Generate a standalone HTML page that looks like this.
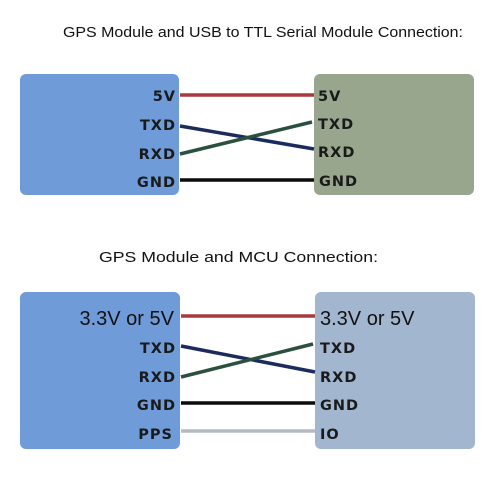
<!DOCTYPE html>
<html><head><meta charset="utf-8"><style>
html,body{margin:0;padding:0;background:#fff;}
svg{display:block;}
.t{font-family:"Liberation Sans",Arial,sans-serif;font-size:15px;fill:#111;}
.l{font-family:"DejaVu Sans","Liberation Sans",sans-serif;font-size:14.5px;font-weight:bold;fill:#1a1a1a;letter-spacing:1px;}
.b{font-family:"Liberation Sans",Arial,sans-serif;font-size:20px;fill:#111;}
</style></head><body>
<svg width="500" height="500" xmlns="http://www.w3.org/2000/svg">
<text class="t" x="63" y="37" textLength="400" lengthAdjust="spacingAndGlyphs">GPS Module and USB to TTL Serial Module Connection:</text>
<rect x="20" y="74" width="159" height="121" rx="6" fill="#6f9bd8"/>
<rect x="314" y="74" width="160" height="121" rx="6" fill="#97a68d"/>
<g stroke-width="3.5" fill="none">
<line x1="180" y1="95" x2="314" y2="95" stroke="#a83a3e"/>
<line x1="180" y1="126" x2="314" y2="149" stroke="#1b2c5c"/>
<line x1="180" y1="154" x2="312" y2="122" stroke="#2a5040"/>
<line x1="180" y1="180" x2="314" y2="180" stroke="#0c0c0c"/>
</g>
<g class="l" text-anchor="end">
<text x="176" y="101">5V</text><text x="176" y="130">TXD</text><text x="176" y="159">RXD</text><text x="176" y="187">GND</text>
</g>
<g class="l">
<text x="318" y="101">5V</text><text x="318" y="129">TXD</text><text x="318" y="157">RXD</text><text x="319" y="186">GND</text>
</g>
<text class="t" x="99" y="262" textLength="279" lengthAdjust="spacingAndGlyphs">GPS Module and MCU Connection:</text>
<rect x="20" y="292" width="160" height="157" rx="6" fill="#6f9bd8"/>
<rect x="315" y="292" width="160" height="157" rx="6" fill="#a3b6d0"/>
<g stroke-width="3.5" fill="none">
<line x1="181" y1="316" x2="315" y2="316" stroke="#a83a3e"/>
<line x1="181" y1="346" x2="315" y2="372" stroke="#1b2c5c"/>
<line x1="181" y1="377" x2="313" y2="344" stroke="#2a5040"/>
<line x1="181" y1="403" x2="315" y2="403" stroke="#0c0c0c"/>
<line x1="181" y1="431" x2="315" y2="431" stroke="#b4bac2"/>
</g>
<text class="b" x="174" y="325" text-anchor="end">3.3V or 5V</text>
<g class="l" text-anchor="end">
<text x="176" y="353">TXD</text><text x="176" y="382">RXD</text><text x="176" y="410">GND</text><text x="173" y="439">PPS</text>
</g>
<text class="b" x="320" y="325">3.3V or 5V</text>
<g class="l">
<text x="320" y="353">TXD</text><text x="320" y="382">RXD</text><text x="320" y="410">GND</text><text x="320" y="439">IO</text>
</g>
</svg>
</body></html>
